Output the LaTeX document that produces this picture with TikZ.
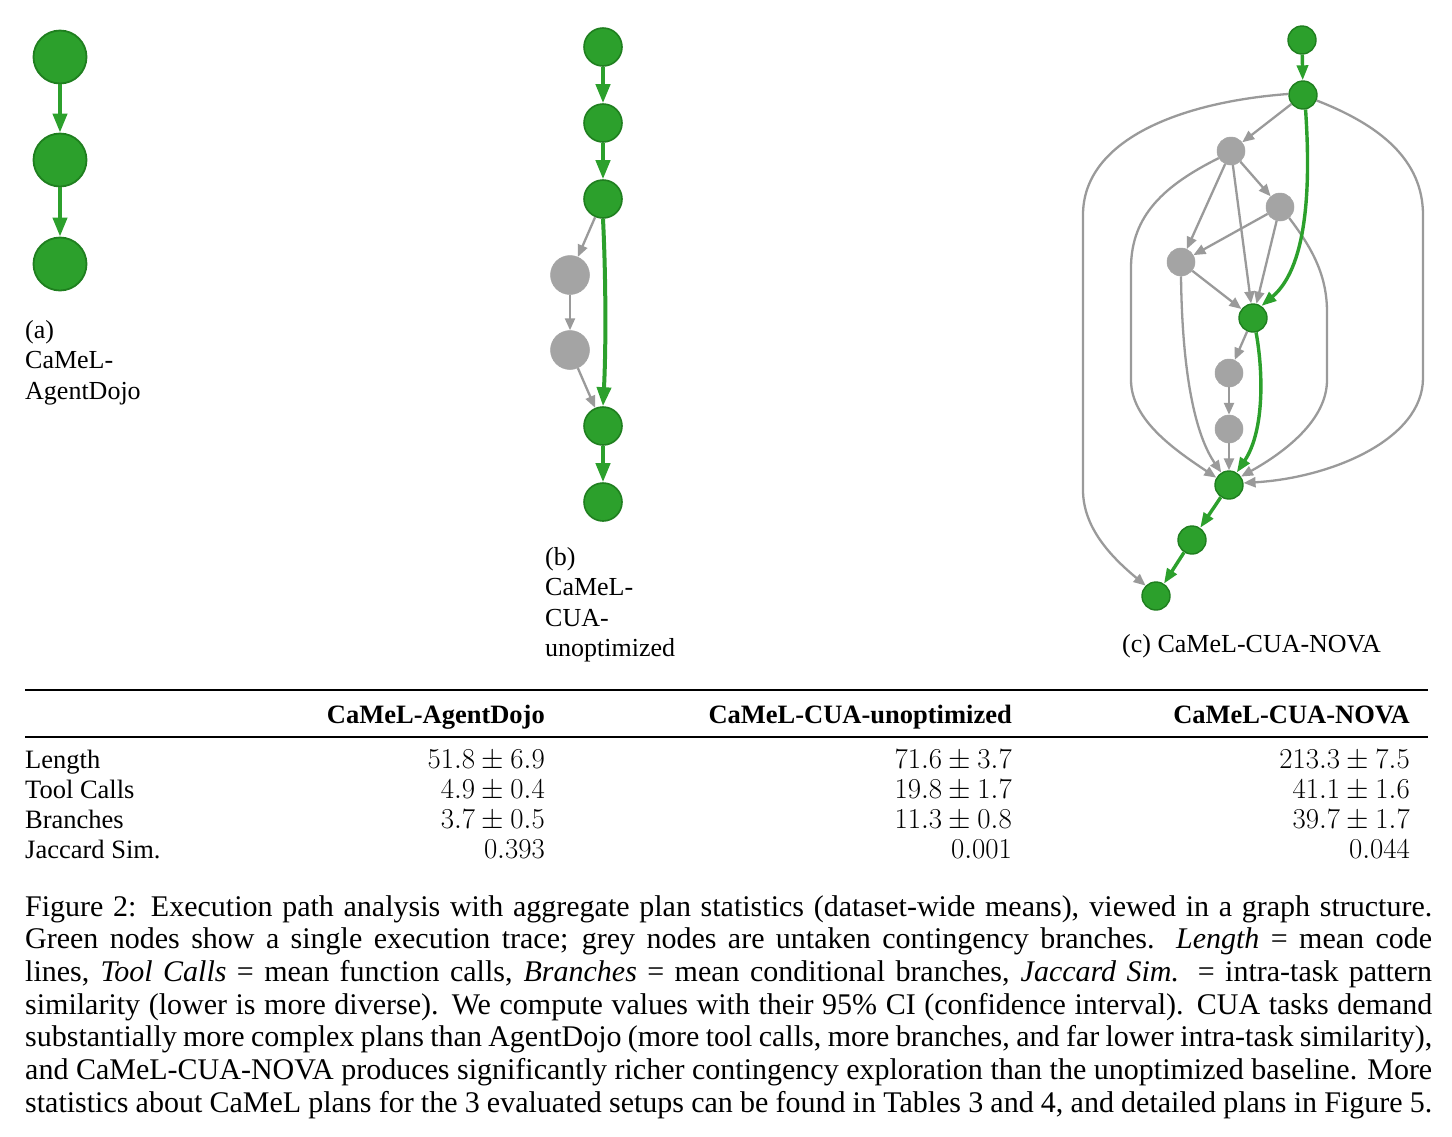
\documentclass[tikz,border=0pt]{standalone}
\usepackage[no-math]{fontspec}
\setmainfont{Liberation Serif}
\usepackage{graphicx}
\usetikzlibrary{arrows.meta}
\definecolor{gfill}{HTML}{2CA02C}
\definecolor{gdraw}{HTML}{1F7F1F}
\definecolor{greyfill}{HTML}{A4A4A4}
\definecolor{greyline}{HTML}{9A9A9A}
\definecolor{gline}{HTML}{2CA02C}
\newcommand\myCapFont{\fontsize{30}{32.7}\selectfont}
\newcommand\mySubFont{\fontsize{26}{30.5}\selectfont}
\newcommand\myTabFont{\fontsize{26.5}{30}\selectfont}
\newcommand\myNum[1]{\scalebox{1.16}{$#1$}}
\newcommand\capline[1]{\makebox[1407pt][s]{#1}}
\begin{document}
\begin{tikzpicture}[x=1pt,y=-1pt,
  gnodeA/.style={circle,fill=gfill,draw=gdraw,line width=1.8pt,inner sep=0pt,minimum size=53pt},
  gnodeB/.style={circle,fill=gfill,draw=gdraw,line width=1.6pt,inner sep=0pt,minimum size=38pt},
  rnodeB/.style={circle,fill=greyfill,draw=greyfill,line width=0.5pt,inner sep=0pt,minimum size=39pt},
  gnodeC/.style={circle,fill=gfill,draw=gdraw,line width=1.4pt,inner sep=0pt,minimum size=28pt},
  rnodeC/.style={circle,fill=greyfill,draw=greyfill,line width=0.5pt,inner sep=0pt,minimum size=28pt},
  gedgeA/.style={draw=gline,line width=4pt,-{Triangle[length=19pt,width=14pt]}},
  gedgeC/.style={draw=gline,line width=3.4pt,-{Triangle[length=15pt,width=11pt]}},
  redge/.style={draw=greyline,line width=2.3pt,-{Triangle[length=12pt,width=10pt]}},
  txt/.style={anchor=base west,inner sep=0pt},
  txtr/.style={anchor=base east,inner sep=0pt},
  num/.style={anchor=base east,inner sep=0pt,font=\myTabFont},
  rulethick/.style={line width=2.6pt},
  rulethin/.style={line width=1.4pt}]
\useasboundingbox (0,0) rectangle (1452,1136);
\fill[white] (0,0) rectangle (1452,1136);

% ---------- (a) ----------
\node[gnodeA] (a1) at (60,57) {};
\node[gnodeA] (a2) at (60,160) {};
\node[gnodeA] (a3) at (60,264) {};
\draw[gedgeA] (a1) -- (a2);
\draw[gedgeA] (a2) -- (a3);
\node[txt,font=\mySubFont] (la1) at (25,338) {(a)};
\node[txt,font=\mySubFont] (la2) at (25,368.5) {CaMeL-};
\node[txt,font=\mySubFont] (la3) at (25,399) {AgentDojo};

% ---------- (b) ----------
\node[gnodeB] (b1) at (603,47) {};
\node[gnodeB] (b2) at (603,123) {};
\node[gnodeB] (b3) at (603,199) {};
\node[rnodeB] (b4) at (570,275) {};
\node[rnodeB] (b5) at (570,350) {};
\node[gnodeB] (b6) at (603,426) {};
\node[gnodeB] (b7) at (603,502) {};
\draw[gedgeA] (b1) -- (b2);
\draw[gedgeA] (b2) -- (b3);
\draw[redge] (b3) -- (b4);
\draw[redge] (b4) -- (b5);
\draw[redge] (b5) -- (b6);
\draw[gedgeA] (b3.south) .. controls (606,280) and (606,350) .. (b6.north);
\draw[gedgeA] (b6) -- (b7);
\node[txt,font=\mySubFont] (lb1) at (545,565) {(b)};
\node[txt,font=\mySubFont] (lb2) at (545,595.5) {CaMeL-};
\node[txt,font=\mySubFont] (lb3) at (545,626) {CUA-};
\node[txt,font=\mySubFont] (lb4) at (545,656.5) {unoptimized};

% ---------- (c) ----------
\node[gnodeC] (c1) at (1302,40) {};
\node[gnodeC] (c2) at (1303,95) {};
\node[rnodeC] (r1) at (1231,151) {};
\node[rnodeC] (r2) at (1280,207) {};
\node[rnodeC] (r3) at (1181,262) {};
\node[gnodeC] (c3) at (1253,318) {};
\node[rnodeC] (r4) at (1229,373) {};
\node[rnodeC] (r5) at (1229,429) {};
\node[gnodeC] (c4) at (1229,485) {};
\node[gnodeC] (c5) at (1192,540) {};
\node[gnodeC] (c6) at (1156,596) {};

\draw[gedgeC] (c1) -- (c2);
\draw[redge] (c2) -- (r1);
\draw[redge] (r1) -- (r3);
\draw[redge] (r1) -- (r2);
\draw[redge] (r1) -- (c3);
\draw[redge] (r2) -- (r3);
\draw[redge] (r2) -- (c3);
\draw[redge] (r3) -- (c3);
\draw[redge] (c3) -- (r4);
\draw[redge] (r4) -- (r5);
\draw[redge] (r5) -- (c4);
% outer left loop
\draw[redge] (c2.176) .. controls (1180,102) and (1083,140) .. (1083,215)
   -- (1083,490) .. controls (1083,530) and (1115,560) .. (c6.135);
% outer right loop
\draw[redge] (c2.-22) .. controls (1380,125) and (1423,160) .. (1423,215)
   -- (1423,378) .. controls (1423,440) and (1330,478) .. (c4.8);
% r1 left loop
\draw[redge] (r1.210) .. controls (1165,185) and (1131,215) .. (1131,268)
   -- (1131,380) .. controls (1131,420) and (1175,450) .. (c4.150);
% r2 right loop
\draw[redge] (r2.-50) .. controls (1312,248) and (1327,275) .. (1327,312)
   -- (1327,380) .. controls (1327,420) and (1285,452) .. (c4.35);
% r3 down
\draw[redge] (r3.south) .. controls (1182,360) and (1192,430) .. (c4.122);
% green path
\draw[gedgeC] (c2.-80) .. controls (1310,175) and (1310,265) .. (c3.55);
\draw[gedgeC] (c3.-78) .. controls (1263,370) and (1265,430) .. (c4.58);
\draw[gedgeC] (c4) -- (c5);
\draw[gedgeC] (c5) -- (c6);
\node[txt,font=\mySubFont] (lc) at (1122,652) {(c) CaMeL-CUA-NOVA};

% ---------- table ----------
\coordinate (t1l) at (25,690);
\coordinate (t1r) at (1428,690);
\coordinate (t2l) at (25,737);
\coordinate (t2r) at (1428,737);
\draw[rulethick] (t1l) -- (t1r);
\draw[rulethin] (t2l) -- (t2r);
\begin{scope}[font=\myTabFont]
\node[txtr] (h1) at (545,723) {\bfseries CaMeL-AgentDojo};
\node[txtr] (h2) at (1012,723) {\bfseries CaMeL-CUA-unoptimized};
\node[txtr] (h3) at (1410,723) {\bfseries CaMeL-CUA-NOVA};
\node[txt] (rl1) at (25,768) {Length};
\node[txt] (rl2) at (25,798) {Tool Calls};
\node[txt] (rl3) at (25,828) {Branches};
\node[txt] (rl4) at (25,858) {Jaccard Sim.};
\end{scope}
\node[num] (v11) at (545,768) {\myNum{51.8\pm6.9}};
\node[num] (v12) at (1012,768) {\myNum{71.6\pm3.7}};
\node[num] (v13) at (1410,768) {\myNum{213.3\pm7.5}};
\node[num] (v21) at (545,798) {\myNum{4.9\pm0.4}};
\node[num] (v22) at (1012,798) {\myNum{19.8\pm1.7}};
\node[num] (v23) at (1410,798) {\myNum{41.1\pm1.6}};
\node[num] (v31) at (545,828) {\myNum{3.7\pm0.5}};
\node[num] (v32) at (1012,828) {\myNum{11.3\pm0.8}};
\node[num] (v33) at (1410,828) {\myNum{39.7\pm1.7}};
\node[num] (v41) at (545,858) {\myNum{0.393}};
\node[num] (v42) at (1012,858) {\myNum{0.001}};
\node[num] (v43) at (1410,858) {\myNum{0.044}};

% ---------- caption ----------
\begin{scope}[font=\myCapFont]
\node[txt] (cap1) at (25,916) {\capline{Figure 2: Execution path analysis with aggregate plan statistics (dataset-wide means), viewed in a graph structure.}};
\node[txt] (cap2) at (25,948.7) {\capline{Green nodes show a single execution trace; grey nodes are untaken contingency branches. \textit{Length} = mean code}};
\node[txt] (cap3) at (25,981.4) {\capline{lines, \textit{Tool Calls} = mean function calls, \textit{Branches} = mean conditional branches, \textit{Jaccard Sim.} = intra-task pattern}};
\node[txt] (cap4) at (25,1014.1) {\capline{similarity (lower is more diverse). We compute values with their 95\% CI (confidence interval). CUA tasks demand}};
\node[txt] (cap5) at (25,1046.8) {\capline{substantially more complex plans than AgentDojo (more tool calls, more branches, and far lower intra-task similarity),}};
\node[txt] (cap6) at (25,1079.5) {\capline{and CaMeL-CUA-NOVA produces significantly richer contingency exploration than the unoptimized baseline. More}};
\node[txt] (cap7) at (25,1112.2) {\capline{statistics about CaMeL plans for the 3 evaluated setups can be found in Tables 3 and 4, and detailed plans in Figure 5.}};
\end{scope}
\end{tikzpicture}
\end{document}
